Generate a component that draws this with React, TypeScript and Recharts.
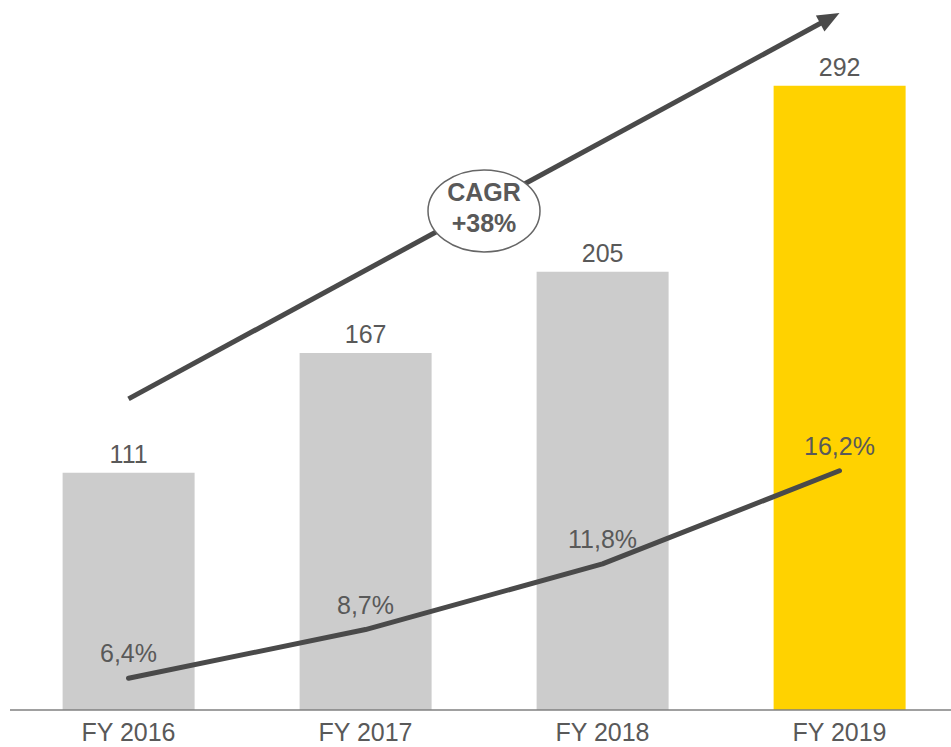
import { ComposedChart, Bar, Line, XAxis, YAxis, Cell, LabelList, ReferenceLine } from "recharts";

const years = ["FY 2016", "FY 2017", "FY 2018", "FY 2019"];
const revenue = [111, 167, 205, 292];
const margin = [6.4, 8.7, 11.8, 16.2];
const barColors = ["#CCCCCC", "#CCCCCC", "#CCCCCC", "#FFD200"];
const cagrLabel = ["CAGR", "+38%"];
// arrow start/end in revenue units
const arrowFrom = 145.5;
const arrowTo = 326;

const data = years.map((y, i) => ({ year: y, revenue: revenue[i], margin: margin[i] }));

const FONT = '"Liberation Sans", Arial, sans-serif';
const TEXT = "#595959";
const DARK = "#4A4A4A";

const fmtPct = (v: any) => String(v).replace(".", ",") + "%";

function ArrowShape(props: any) {
  const { x1, y1, x2, y2 } = props;
  if (x1 == null || y2 == null) return null;
  const dx = x2 - x1;
  const dy = y2 - y1;
  const len = Math.sqrt(dx * dx + dy * dy);
  const ux = dx / len;
  const uy = dy / len;
  const headLen = 22;
  const headW = 9;
  const bx = x2 - ux * headLen;
  const by = y2 - uy * headLen;
  const px = -uy;
  const py = ux;
  const cx = (x1 + x2) / 2;
  const cy = (y1 + y2) / 2 + 5;
  return (
    <g>
      <line x1={x1} y1={y1} x2={bx + ux * 2} y2={by + uy * 2} stroke={DARK} strokeWidth={5} />
      <polygon
        points={`${x2},${y2} ${bx + px * headW},${by + py * headW} ${bx - px * headW},${by - py * headW}`}
        fill={DARK}
      />
      <ellipse cx={cx} cy={cy} rx={56} ry={41} fill="#FFFFFF" stroke="#666666" strokeWidth={1.5} />
      <text x={cx} y={cy - 10} textAnchor="middle" fontFamily={FONT} fontWeight="bold" fontSize={25} fill={TEXT}>
        {cagrLabel[0]}
      </text>
      <text x={cx} y={cy + 21} textAnchor="middle" fontFamily={FONT} fontWeight="bold" fontSize={25} fill={TEXT}>
        {cagrLabel[1]}
      </text>
    </g>
  );
}

export default function App() {
  return (
    <div
      style={{
        position: "absolute",
        left: 0,
        top: 0,
        width: 951,
        height: 747,
        overflow: "hidden",
        background: "#FFFFFF",
        fontFamily: FONT,
      }}
    >
      <ComposedChart
        width={958}
        height={747}
        data={data}
        margin={{ top: 10, right: 0, bottom: 0, left: 10 }}
        barCategoryGap="22.2%"
      >
        <XAxis
          dataKey="year"
          height={37}
          axisLine={{ stroke: "#808080", strokeWidth: 1.5 }}
          tickLine={false}
          tickSize={6}
          tickMargin={7}
          tick={{ fill: TEXT, fontSize: 25, fontFamily: FONT }}
          interval={0}
        />
        <YAxis yAxisId="left" hide domain={[0, 327.4]} allowDataOverflow />
        <YAxis yAxisId="right" orientation="right" hide domain={[4.9, 37.96]} allowDataOverflow />
        <Bar yAxisId="left" dataKey="revenue" isAnimationActive={false}>
          {data.map((d, i) => (
            <Cell key={d.year} fill={barColors[i]} />
          ))}
          <LabelList dataKey="revenue" position="top" offset={10} fill={TEXT} fontSize={25} fontFamily={FONT} />
        </Bar>
        <Line
          yAxisId="right"
          type="linear"
          dataKey="margin"
          stroke={DARK}
          strokeWidth={5}
          strokeLinecap="round"
          strokeLinejoin="round"
          dot={false}
          activeDot={false}
          isAnimationActive={false}
        >
          <LabelList
            dataKey="margin"
            position="top"
            offset={16}
            fill={TEXT}
            fontSize={25}
            fontFamily={FONT}
            formatter={fmtPct}
          />
        </Line>
        <ReferenceLine
          yAxisId="left"
          segment={[
            { x: years[0], y: arrowFrom },
            { x: years[3], y: arrowTo },
          ]}
          shape={ArrowShape}
          ifOverflow="visible"
        />
      </ComposedChart>
    </div>
  );
}
